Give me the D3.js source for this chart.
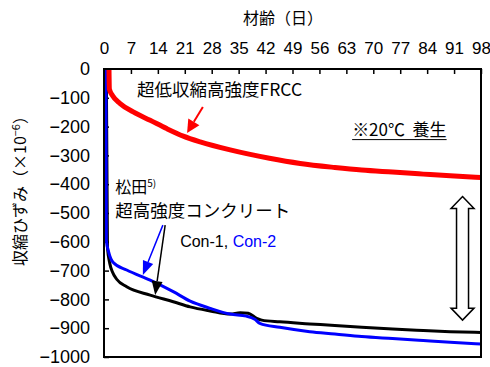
<!DOCTYPE html>
<html>
<head>
<meta charset="utf-8">
<script src="https://cdn.jsdelivr.net/npm/d3@7"></script>
<style>
  html, body { margin: 0; padding: 0; background: #fff; }
  svg { display: block; }
  text { font-family: "Liberation Sans", "Noto Sans CJK JP", sans-serif; fill: #000; }
  .jp { font-family: "Noto Sans CJK JP", sans-serif; }
</style>
</head>
<body>
<script>
// Shrinkage strain (×10^-6) versus age (days)
const xTicks = [0, 7, 14, 21, 28, 35, 42, 49, 56, 63, 70, 77, 84, 91, 98];
const yTicks = [0, -100, -200, -300, -400, -500, -600, -700, -800, -900, -1000];

// 超低収縮高強度FRCC
const frccDays = [1.3, 1.4, 2.2, 4.2, 7.6, 12, 16.3, 20.6, 25, 32.8, 43, 51, 60, 67, 75, 83, 90, 98];
const frccStrain = [0, -70, -92, -120, -149, -178, -207, -233, -253, -281, -310, -328, -342, -351, -358, -365, -371, -377];

// Con-1 (black)
const con1Days = [0.6, 0.9, 1.5, 2.2, 3.3, 5.9, 12, 18, 22.4, 27.6, 32.8, 35.4, 37.5, 39.7, 41, 45.7, 53.5, 60, 67, 75, 83, 90, 98];
const con1Strain = [0, -620, -675, -705, -730, -756, -785, -808, -826, -840, -851, -846, -848, -866, -872, -878, -885, -891, -897, -903, -908, -912, -915];

// Con-2 (blue)
const con2Days = [0.5, 0.6, 1.2, 2.4, 5.9, 12, 18, 22.4, 27.6, 32.8, 37, 39.2, 40.5, 45.7, 53.5, 60, 67, 75, 83, 90, 98];
const con2Strain = [0, -595, -635, -672, -698, -733, -773, -806, -831, -851, -858, -869, -883, -897, -912, -920, -929, -936, -943, -949, -955];

const W = 490, H = 367;
const margin = { left: 104, right: 9, top: 69, bottom: 10 };

const svg = d3.select("body").append("svg").attr("width", W).attr("height", H);

const x = d3.scaleLinear().domain([0, 98]).range([margin.left, W - margin.right]);
const y = d3.scaleLinear().domain([0, -1000]).range([margin.top, H - margin.bottom]);

// axes: ticks point inward, x labels on top
const xAxis = svg.append("g")
  .attr("transform", `translate(0,${y(0)})`)
  .call(d3.axisTop(x).tickValues(xTicks).tickSizeInner(-5).tickSizeOuter(0).tickPadding(15)
    .tickFormat(d3.format("d")));
xAxis.select(".domain").remove();
xAxis.selectAll("line").attr("stroke", "#000").attr("stroke-width", 1.5);
xAxis.selectAll("text").attr("font-size", 17).attr("font-family", "Liberation Sans");

const yAxis = svg.append("g")
  .attr("transform", `translate(${x(0)},0)`)
  .call(d3.axisLeft(y).tickValues(yTicks).tickSizeInner(-5).tickSizeOuter(0).tickPadding(14)
    .tickFormat(d => d === 0 ? "0" : "\u2212" + Math.abs(d)));
yAxis.select(".domain").remove();
yAxis.selectAll("line").attr("stroke", "#000").attr("stroke-width", 1.5);
yAxis.selectAll("text").attr("font-size", 18).attr("font-family", "Liberation Sans");

// series
const line = d3.line().x(d => x(d[0])).y(d => y(d[1])).curve(d3.curveMonotoneX);
const series = [
  { days: con1Days, vals: con1Strain, color: "#000", width: 3 },
  { days: con2Days, vals: con2Strain, color: "#0000ff", width: 3 },
  { days: frccDays, vals: frccStrain, color: "#ff0000", width: 5 }
];
series.forEach(s => {
  svg.append("path")
    .datum(s.days.map((d, i) => [d, s.vals[i]]))
    .attr("fill", "none")
    .attr("stroke", s.color)
    .attr("stroke-width", s.width)
    .attr("stroke-linejoin", "round")
    .attr("d", line);
});

// plot frame
svg.append("rect")
  .attr("x", x(0)).attr("y", y(0))
  .attr("width", x(98) - x(0)).attr("height", y(-1000) - y(0))
  .attr("fill", "none").attr("stroke", "#000").attr("stroke-width", 2);

// axis titles
svg.append("text").attr("class", "jp")
  .attr("x", 283).attr("y", 24).attr("text-anchor", "middle").attr("font-size", 16)
  .text("材齢（日）");

const yt = svg.append("text").attr("class", "jp")
  .attr("transform", `translate(26,${(y(0) + y(-1000)) / 2 - 26}) rotate(-90)`)
  .attr("text-anchor", "middle").attr("font-size", 16);
yt.append("tspan").text("収縮ひずみ（×10");
yt.append("tspan").attr("dy", -6).attr("font-size", 11).text("−6");
yt.append("tspan").attr("dy", 6).text("）");

// arrows with filled heads, endpoints in data units
function arrow(from, to, color, lw, headLen, headW) {
  const x1 = x(from[0]), y1 = y(from[1]), x2 = x(to[0]), y2 = y(to[1]);
  const a = Math.atan2(y2 - y1, x2 - x1);
  const bx = x2 - headLen * Math.cos(a), by = y2 - headLen * Math.sin(a);
  const nx = -Math.sin(a) * headW / 2, ny = Math.cos(a) * headW / 2;
  svg.append("line").attr("x1", x1).attr("y1", y1).attr("x2", bx).attr("y2", by)
    .attr("stroke", color).attr("stroke-width", lw);
  svg.append("path")
    .attr("d", `M${x2},${y2}L${bx + nx},${by + ny}L${bx - nx},${by - ny}Z`)
    .attr("fill", color);
}
arrow([25.7, -132], [21.6, -222], "#ff0000", 2, 13, 13);
arrow([15.3, -542], [10.1, -715], "#0000ff", 1.5, 14, 11);
arrow([15.9, -542], [13.3, -785], "#000", 1.5, 14, 11);

// hollow double-headed arrow
(function () {
  const cx = x(93.2), top = y(-443), bot = y(-872);
  const sw = 6, hw = 11.5, hl = 12;
  const p = [
    [cx, top], [cx + hw, top + hl], [cx + sw, top + hl], [cx + sw, bot - hl], [cx + hw, bot - hl],
    [cx, bot], [cx - hw, bot - hl], [cx - sw, bot - hl], [cx - sw, top + hl], [cx - hw, top + hl]
  ];
  svg.append("path").attr("d", "M" + p.map(q => q.join(",")).join("L") + "Z")
    .attr("fill", "#fff").attr("stroke", "#000").attr("stroke-width", 1.5);
})();

// annotations
svg.append("text").attr("class", "jp").attr("x", x(8.6)).attr("y", y(-94)).attr("font-size", 17.5)
  .text("超低収縮高強度FRCC");

const cure = svg.append("text").attr("class", "jp").attr("x", x(64.5)).attr("y", y(-233)).attr("font-size", 17)
  .attr("xml:space", "preserve").style("white-space", "pre")
  .text("※20℃  養生");
const cb = cure.node().getBBox();
svg.append("line").attr("x1", cb.x).attr("x2", cb.x + cb.width)
  .attr("y1", y(-233) + 3.5).attr("y2", y(-233) + 3.5).attr("stroke", "#000").attr("stroke-width", 1);

const mt = svg.append("text").attr("class", "jp").attr("x", x(2.9)).attr("y", y(-431)).attr("font-size", 16);
mt.append("tspan").text("松田");
mt.append("tspan").attr("dy", -6).attr("font-size", 10).text("5)");

svg.append("text").attr("class", "jp").attr("x", x(2.9)).attr("y", y(-514)).attr("font-size", 17.5)
  .text("超高強度コンクリート");

const ct = svg.append("text").attr("x", x(19.8)).attr("y", y(-618)).attr("font-size", 16);
ct.append("tspan").attr("fill", "#000").text("Con-1, ");
ct.append("tspan").attr("fill", "#0000ff").text("Con-2");
</script>
</body>
</html>
